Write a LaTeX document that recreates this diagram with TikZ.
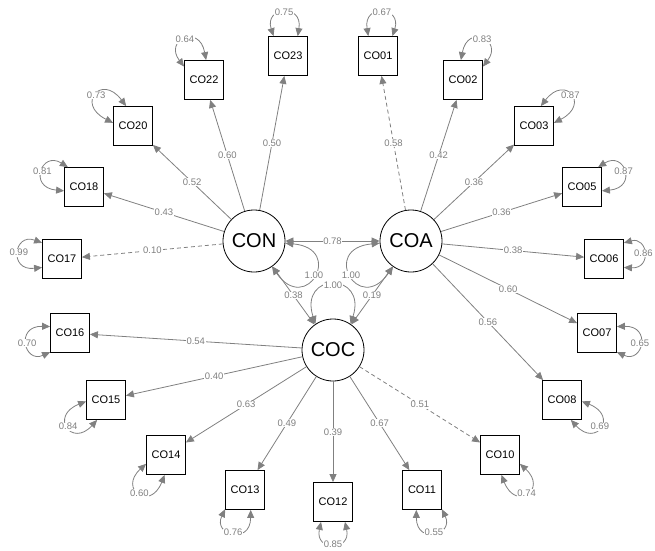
\documentclass[tikz,border=0pt]{standalone}
\usepackage{fontspec}
\setmainfont{Liberation Sans}
\usetikzlibrary{arrows.meta,calc}
\definecolor{edgegrey}{RGB}{128,128,128}
\tikzset{
  latent/.style={draw, circle, minimum size=62pt, inner sep=0pt, line width=0.8pt,
    font=\fontsize{20}{22}\selectfont},
  manifest/.style={draw, rectangle, minimum size=39pt, inner sep=0pt, line width=0.8pt,
    font=\fontsize{11}{12}\selectfont},
  load/.style={draw=edgegrey, line width=0.8pt, -{Triangle[length=8pt,width=7pt]}},
  cov/.style={draw=edgegrey, line width=0.8pt,
    {Triangle[length=8pt,width=7pt]}-{Triangle[length=8pt,width=7pt]}},
  weak/.style={dash pattern=on 4pt off 3pt},
  lbl/.style={fill=white, text=edgegrey, inner sep=0.6pt, font=\fontsize{9.5}{10}\selectfont}
}

\begin{document}
\begin{tikzpicture}[x=1pt,y=1pt]
    \useasboundingbox (0,0) rectangle (655,550);
    % latent variables
    \node[latent] (CON) at (254,309) {CON};
    \node[latent] (COA) at (411,309) {COA};
    \node[latent] (COC) at (333,200) {COC};
    % indicators
    \foreach \n/\x/\y in {CO23/288/494, CO22/204/470, CO20/133/424, CO18/84/363,
        CO17/62/291, CO16/70/217, CO15/106/150, CO14/166/95, CO13/245/60,
        CO12/333/48, CO11/422/60, CO10/500/95, CO08/562/150, CO07/597/217,
        CO06/604/291, CO05/582/363, CO03/534/424, CO02/463/470, CO01/378/494}
      \node[manifest] (\n) at (\x,\y) {\n};
    % loadings
    \foreach \f/\n/\v in {CON/CO23/0.50, CON/CO22/0.60, CON/CO20/0.52, CON/CO18/0.43,
        COA/CO02/0.42, COA/CO03/0.36, COA/CO05/0.36, COA/CO06/0.38, COA/CO07/0.60,
        COA/CO08/0.56, COC/CO16/0.54, COC/CO15/0.40, COC/CO14/0.63, COC/CO13/0.49,
        COC/CO12/0.39, COC/CO11/0.67}
      \draw[load] (\f) -- node[lbl]{\v} (\n);
    \draw[load,weak] (CON) -- node[lbl]{0.10} (CO17);
    \draw[load,weak] (COA) -- node[lbl]{0.58} (CO01);
    \draw[load,weak] (COC) -- node[lbl]{0.51} (CO10);
    % covariances between the factors
    \draw[cov] (CON) -- node[lbl]{0.78} (COA);
    \draw[cov] (CON) -- node[lbl]{0.38} (COC);
    \draw[cov] (COA) -- node[lbl]{0.19} (COC);
    \draw[cov] (CON.-4) .. controls +(-5:60pt) and +(-55:60pt) .. node[lbl]{1.00} (CON.-55);
    \draw[cov] (COA.184) .. controls +(185:60pt) and +(235:60pt) .. node[lbl]{1.00} (COA.235);
    \draw[cov] (COC.124) .. controls +(108:55pt) and +(72:55pt) .. node[lbl]{1.00} (COC.56);
    % residual variances
    \foreach \n/\a/\d/\v in {CO23/95/37/0.75, CO22/115/37/0.64, CO20/140/38/0.73,
        CO18/160/37/0.81, CO17/172/37/0.99, CO16/193/37/0.70, CO15/215/37/0.84,
        CO14/235/37/0.60, CO13/255/37/0.76, CO12/270/35/0.85, CO11/285/37/0.55,
        CO10/305/37/0.74, CO08/325/37/0.69, CO07/347/37/0.65, CO06/8/31/0.86,
        CO05/20/37/0.87, CO03/40/37/0.87, CO02/65/37/0.83, CO01/85/37/0.67}{
      \pgfmathtruncatemacro\aL{\a+31}
      \pgfmathtruncatemacro\aR{\a-31}
      \pgfmathtruncatemacro\cL{\a+32}
      \pgfmathtruncatemacro\cR{\a-32}
      \draw[cov] (\n.\aL) .. controls ($(\n.\a)+(\cL:\d pt)$) and ($(\n.\a)+(\cR:\d pt)$)
        .. node[lbl]{\v} (\n.\aR);
    }
\end{tikzpicture}
\end{document}
